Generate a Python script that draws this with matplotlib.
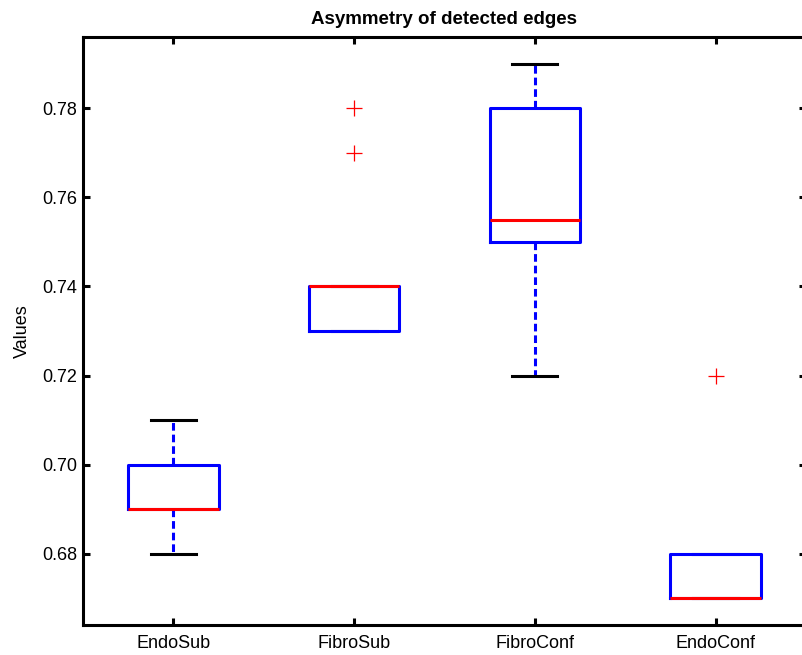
import matplotlib
matplotlib.use("Agg")
import matplotlib.pyplot as plt

categories = ["EndoSub", "FibroSub", "FibroConf", "EndoConf"]
q1 = [0.69, 0.73, 0.75, 0.67]
medians = [0.69, 0.74, 0.755, 0.67]
q3 = [0.70, 0.74, 0.78, 0.68]
whislo = [0.68, 0.73, 0.72, 0.67]
whishi = [0.71, 0.74, 0.79, 0.68]
fliers = [[], [0.77, 0.78], [], [0.72]]
yticks = [0.68, 0.70, 0.72, 0.74, 0.76, 0.78]

plt.rcParams['font.family'] = ['Liberation Sans', 'DejaVu Sans']

fig = plt.figure(figsize=(8.03, 6.55), dpi=100)
ax = fig.add_axes([83/803, (655-625)/655, (806-83)/803, (625-37)/655])

stats = []
for i, c in enumerate(categories):
    stats.append(dict(label=c, med=medians[i], q1=q1[i], q3=q3[i],
                      whislo=whislo[i], whishi=whishi[i], fliers=fliers[i]))

ax.bxp(stats, positions=[1, 2, 3, 4], widths=0.5, showfliers=True,
       boxprops=dict(color='#0000ff', linewidth=2.2, zorder=2),
       medianprops=dict(color='#ff0000', linewidth=2.2, zorder=2.2),
       whiskerprops=dict(color='#0000ff', linewidth=2.2, linestyle=(0, (2.5, 1.3)), zorder=1.8),
       capprops=dict(color='black', linewidth=2.2, zorder=1.9),
       capwidths=0.25,
       flierprops=dict(marker='+', markeredgecolor='#ff0000', markersize=11,
                       markeredgewidth=0.9, linestyle='none'))

ax.set_xlim(0.5, 4.5)
ax.set_ylim(0.664, 0.796)
ax.set_yticks(yticks)
ax.set_yticklabels([f"{v:.2f}" for v in yticks])
ax.set_xticks([1, 2, 3, 4])
ax.set_xticklabels(categories)

for s in ax.spines.values():
    s.set_linewidth(2.2)
ax.tick_params(direction='in', length=5, width=2.2, labelsize=13,
               top=True, right=True)
ax.tick_params(axis='y', pad=4)
ax.tick_params(axis='x', pad=7)
ax.set_ylabel("Values", fontsize=13, labelpad=8)
ax.set_title("Asymmetry of detected edges", fontsize=13.5, fontweight='bold', pad=9)

fig.savefig("out.png", dpi=100)
